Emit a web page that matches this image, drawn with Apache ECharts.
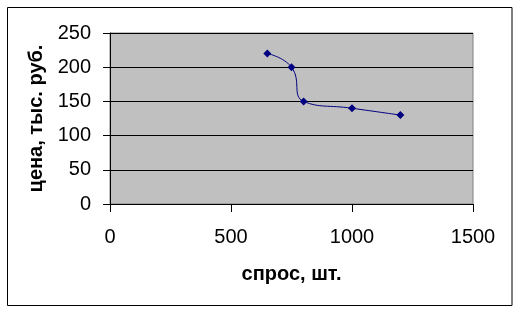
<!DOCTYPE html>
<html><head><meta charset="utf-8">
<script src="https://cdn.jsdelivr.net/npm/echarts@6/dist/echarts.min.js"></script>
<style>html,body{margin:0;padding:0;background:#fff}#c{width:516px;height:309px}</style>
</head><body><div id="c"></div>
<script>
const demand = [650, 750, 800, 1000, 1200];
const price = [220, 200, 150, 140, 130];
const xTitle = 'спрос, шт.';
const yTitle = 'цена, тыс. руб.';

const chart = echarts.init(document.getElementById('c'), null, {renderer: 'canvas'});
const font = 'Liberation Sans, Arial, sans-serif';
chart.setOption({
  animation: false,
  backgroundColor: '#fff',
  graphic: [{
    type: 'rect', left: 5, top: 5, z: -10,
    shape: {width: 504.5, height: 298},
    style: {fill: 'none', stroke: '#000', lineWidth: 1}
  }],
  grid: {left: 110, top: 33, width: 363, height: 171, show: true,
         backgroundColor: '#C0C0C0', borderColor: '#808080', borderWidth: 1},
  xAxis: {
    type: 'value', min: 0, max: 1500, interval: 500,
    name: xTitle, nameLocation: 'middle', nameGap: 60,
    nameTextStyle: {fontFamily: font, fontSize: 20, fontWeight: 'bold', color: '#000'},
    axisLine: {onZero: false, lineStyle: {color: '#000', width: 1}},
    axisTick: {show: true, length: 8, lineStyle: {color: '#000'}},
    axisLabel: {fontFamily: font, fontSize: 20, color: '#000', margin: 23,
                formatter: v => String(v)},
    splitLine: {show: false}
  },
  yAxis: {
    type: 'value', min: 0, max: 250, interval: 50,
    name: yTitle, nameLocation: 'middle', nameGap: 62, nameRotate: 90,
    nameTextStyle: {fontFamily: font, fontSize: 20, fontWeight: 'bold', color: '#000'},
    axisLine: {show: true, onZero: false, lineStyle: {color: '#000', width: 1}},
    axisTick: {show: true, length: 7, lineStyle: {color: '#000'}},
    axisLabel: {fontFamily: font, fontSize: 20, color: '#000', margin: 19,
                formatter: v => String(v)},
    splitLine: {show: true, lineStyle: {color: '#000', width: 1}}
  },
  series: [{
    type: 'line',
    data: demand.map((d, i) => [d, price[i]]),
    smooth: 0.5,
    symbol: 'diamond', symbolSize: 8,
    lineStyle: {color: '#000080', width: 1},
    itemStyle: {color: '#000080'}
  }]
});
</script></body></html>
